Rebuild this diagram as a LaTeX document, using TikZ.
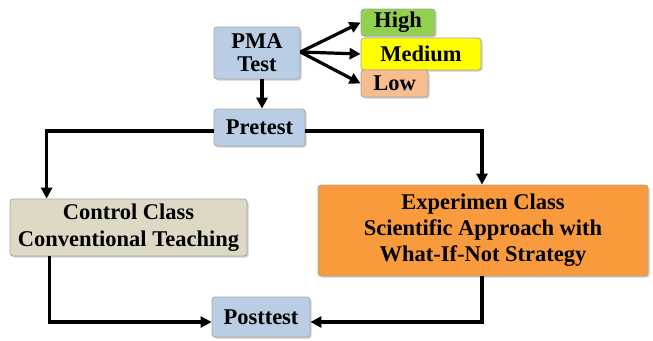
\documentclass[tikz,border=0pt]{standalone}
\usepackage{fontspec}
\setmainfont{Liberation Serif}
\usetikzlibrary{shadows,arrows.meta,calc}
\definecolor{boxblue}{HTML}{B9CDE5}
\definecolor{boxbeige}{HTML}{DDD9C4}
\definecolor{boxorange}{HTML}{F99A3D}
\definecolor{boxgreen}{HTML}{92D050}
\definecolor{boxyellow}{HTML}{FFFF00}
\definecolor{boxpeach}{HTML}{F8BD8E}
\tikzset{
  box/.style={draw=gray!70, line width=0.8pt, rounded corners=3pt, inner sep=0pt,
    align=center, font=\fontsize{22.5}{23}\selectfont\bfseries,
    drop shadow={shadow xshift=1.5pt, shadow yshift=-1.5pt, fill=gray!55, opacity=0.7}},
  conn/.style={line width=3.2pt, -{Triangle[length=11pt,width=11pt]}},
}
\begin{document}
\begin{tikzpicture}[x=1pt,y=-1pt]
\useasboundingbox (0,0) rectangle (653,340);
\node[box, fill=boxblue, minimum width=86pt, minimum height=52pt] (pma) at (257,53) {PMA\\Test};
\node[box, fill=boxgreen, minimum width=74pt, minimum height=27pt] (high) at (398,22.5) {High};
\node[box, fill=boxyellow, minimum width=120pt, minimum height=32pt] (med) at (421,54) {Medium};
\node[box, fill=boxpeach, minimum width=67pt, minimum height=27pt] (low) at (394.5,83.5) {Low};
\node[box, fill=boxblue, minimum width=91pt, minimum height=37pt] (pre) at (259.5,127.5) {Pretest};
\node[box, fill=boxbeige, minimum width=237pt, minimum height=57pt,
  font=\fontsize{22.5}{27}\selectfont\bfseries] (ctrl) at (128.5,227.5) {Control Class\\Conventional Teaching};
\node[box, fill=boxorange, minimum width=330pt, minimum height=91pt,
  font=\fontsize{22.5}{26}\selectfont\bfseries] (exp) at (483,230.5) {Experimen Class\\Scientific Approach with\\What-If-Not Strategy};
\node[box, fill=boxblue, minimum width=98pt, minimum height=40pt] (post) at (261,317) {Posttest};
\coordinate (pmaout) at ($(pma.east)+(0,-1)$);
\draw[conn] (pmaout) -- (high.west);
\draw[conn] (pmaout) -- (med.west);
\draw[conn] (pmaout) -- (low.west);
\draw[conn] ($(pma.south)+(5,0)$) -- ($(pre.north)+(2.5,0)$);
\coordinate (ctrlin) at ($(ctrl.north west)+(37,0)$);
\draw[conn] ($(pre.west)+(0,3.5)$) -| (ctrlin);
\draw[conn] ($(pre.east)+(0,3.5)$) -| ($(exp.north)+(-1,0)$);
\coordinate (ctrlout) at ($(ctrl.south west)+(40,0)$);
\draw[conn] (ctrlout) |- ($(post.west)+(0,5)$);
\draw[conn] ($(exp.south)+(-1,0)$) |- ($(post.east)+(0,5)$);
\end{tikzpicture}
\end{document}
